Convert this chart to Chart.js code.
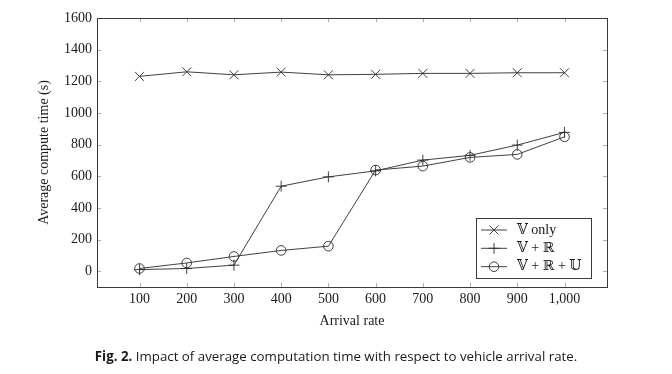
<!DOCTYPE html>
<html>
<head>
<meta charset="utf-8">
<script src="https://cdn.jsdelivr.net/npm/chart.js@4/dist/chart.umd.min.js"></script>
<style>
  html, body { margin: 0; padding: 0; background: #ffffff; }
  #wrap { width: 672px; height: 374px; }
</style>
</head>
<body>
<div id="wrap"><canvas id="c" width="672" height="374"></canvas></div>
<script>
const arrivalRates = [100, 200, 300, 400, 500, 600, 700, 800, 900, 1000];
const vOnly = [1231, 1260, 1241, 1258, 1241, 1244, 1250, 1250, 1254, 1254];
const vR = [10, 17, 38, 537, 596, 634, 702, 732, 797, 877];
const vRU = [17, 52, 93, 131, 158, 639, 664, 719, 738, 849];
const yTicks = [0, 200, 400, 600, 800, 1000, 1200, 1400, 1600];
const seriesLabels = ['\u{1D54D} only', '\u{1D54D} + \u211D', '\u{1D54D} + \u211D + \u{1D54C}'];
const xTitle = 'Arrival rate';
const yTitle = 'Average compute time (s)';
const captionBold = 'Fig. 2.';
const captionText = ' Impact of average computation time with respect to vehicle arrival rate.';

const SERIF = '"Liberation Serif", "DejaVu Serif", "DejaVu Sans", serif';
const LINE = '#2b2b2b';

function pts(vals) { return arrivalRates.map((x, i) => ({ x: x, y: vals[i] })); }

const styles = [
  { pointStyle: 'crossRot', pointRadius: 6.3 },
  { pointStyle: 'cross', pointRadius: 5.5 },
  { pointStyle: 'circle', pointRadius: 4.8 }
];
const seriesData = [vOnly, vR, vRU];

const datasets = seriesData.map((vals, i) => ({
  label: seriesLabels[i],
  data: pts(vals),
  borderColor: LINE,
  backgroundColor: 'rgba(0,0,0,0)',
  borderWidth: 0.9,
  pointBorderColor: LINE,
  pointBackgroundColor: 'rgba(0,0,0,0)',
  pointBorderWidth: 0.9,
  pointStyle: styles[i].pointStyle,
  pointRadius: styles[i].pointRadius,
  pointHoverRadius: styles[i].pointRadius,
  tension: 0,
  fill: false
}));

const framePlugin = {
  id: 'frame',
  afterDatasetsDraw(chart) {
    const ctx = chart.ctx;
    const a = chart.chartArea;
    const xs = chart.scales.x, ys = chart.scales.y;
    ctx.save();
    // inside ticks
    ctx.strokeStyle = '#9a9a9a';
    ctx.lineWidth = 0.8;
    const tl = 4;
    ctx.beginPath();
    yTicks.forEach(v => {
      const y = Math.round(ys.getPixelForValue(v)) + 0.5;
      ctx.moveTo(a.left, y); ctx.lineTo(a.left + tl, y);
      ctx.moveTo(a.right, y); ctx.lineTo(a.right - tl, y);
    });
    arrivalRates.forEach(v => {
      const x = Math.round(xs.getPixelForValue(v)) + 0.5;
      ctx.moveTo(x, a.top); ctx.lineTo(x, a.top + tl);
      ctx.moveTo(x, a.bottom); ctx.lineTo(x, a.bottom - tl);
    });
    ctx.stroke();
    // frame
    ctx.strokeStyle = '#3a3a3a';
    ctx.lineWidth = 1;
    ctx.strokeRect(Math.round(a.left) + 0.5, Math.round(a.top) + 0.5,
                   Math.round(a.right - a.left), Math.round(a.bottom - a.top));

    // legend box
    const bx = 476.5, by = 218.5, bw = 115, bh = 60;
    ctx.fillStyle = '#ffffff';
    ctx.fillRect(bx, by, bw, bh);
    ctx.strokeStyle = '#3a3a3a';
    ctx.lineWidth = 1;
    ctx.strokeRect(bx, by, bw, bh);
    const rowY = [230, 248.3, 266.7];
    chart.data.datasets.forEach((ds, i) => {
      const cy = rowY[i];
      ctx.strokeStyle = LINE;
      ctx.lineWidth = 0.9;
      ctx.beginPath();
      ctx.moveTo(481, cy); ctx.lineTo(507, cy);
      ctx.stroke();
      ctx.fillStyle = 'rgba(0,0,0,0)';
      ctx.strokeStyle = LINE;
      Chart.helpers.drawPoint(ctx, {
        pointStyle: ds.pointStyle,
        radius: ds.pointRadius,
        rotation: 0,
        borderWidth: ds.pointBorderWidth
      }, 494, cy);
      ctx.fillStyle = '#1a1a1a';
      ctx.font = '14px ' + SERIF;
      ctx.textAlign = 'left';
      ctx.textBaseline = 'middle';
      ctx.fillText(ds.label, 517, cy);
    });

    // caption
    ctx.fillStyle = '#1a1a1a';
    ctx.textBaseline = 'middle';
    ctx.textAlign = 'left';
    const fb = 'bold 13.3px "Open Sans", "Noto Sans", sans-serif';
    const fr = '13.3px "Open Sans", "Noto Sans", sans-serif';
    ctx.font = fb;
    const w1 = ctx.measureText(captionBold).width;
    ctx.font = fr;
    const w2 = ctx.measureText(captionText).width;
    const x0 = 336 - (w1 + w2) / 2;
    ctx.font = fb;
    ctx.fillText(captionBold, x0, 357);
    ctx.font = fr;
    ctx.fillText(captionText, x0 + w1, 357);
    ctx.restore();
  }
};

new Chart(document.getElementById('c'), {
  type: 'line',
  data: { datasets: datasets },
  options: {
    responsive: false,
    devicePixelRatio: 1,
    animation: false,
    events: [],
    layout: { padding: { top: 18, right: 65, left: 0, bottom: 0 } },
    plugins: { legend: { display: false }, tooltip: { enabled: false } },
    scales: {
      x: {
        type: 'linear',
        min: 10, max: 1090,
        afterBuildTicks: s => { s.ticks = arrivalRates.map(v => ({ value: v })); },
        afterFit: s => { s.height = 87; },
        grid: { display: false, drawTicks: false },
        border: { display: false },
        ticks: {
          color: '#1a1a1a', padding: 4, maxRotation: 0, autoSkip: false,
          font: { family: SERIF, size: 14 },
          callback: v => v.toLocaleString('en-US')
        },
        title: {
          display: true, text: xTitle, color: '#1a1a1a',
          font: { family: SERIF, size: 14 },
          padding: { top: 0, bottom: 44.6 }
        }
      },
      y: {
        type: 'linear',
        min: -100, max: 1600,
        afterBuildTicks: s => { s.ticks = yTicks.map(v => ({ value: v })); },
        afterFit: s => { s.width = 97; },
        grid: { display: false, drawTicks: false },
        border: { display: false },
        ticks: {
          color: '#1a1a1a', padding: 5, autoSkip: false,
          font: { family: SERIF, size: 14 },
          callback: v => String(v)
        },
        title: {
          display: true, text: yTitle, color: '#1a1a1a',
          font: { family: SERIF, size: 14 },
          padding: { top: 35.6, bottom: 0 }
        }
      }
    }
  },
  plugins: [framePlugin]
});
</script>
</body>
</html>
